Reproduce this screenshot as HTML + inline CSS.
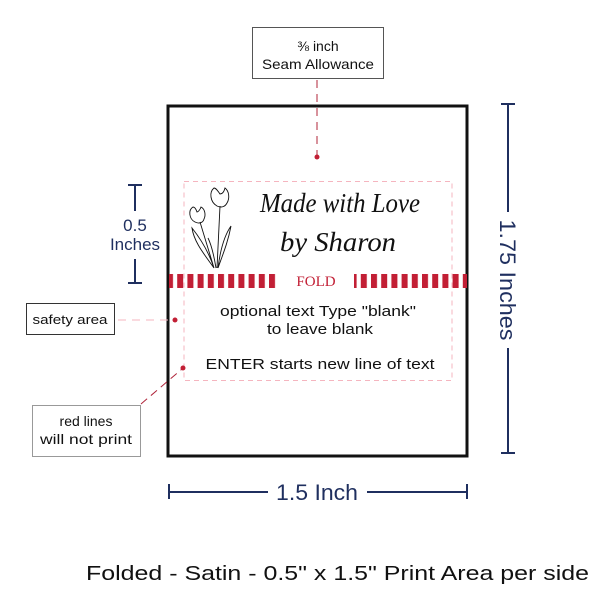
<!DOCTYPE html>
<html><head><style>
body{margin:0;width:600px;height:600px;background:#fff;overflow:hidden}
svg{display:block}
</style></head><body>
<svg width="600" height="600" viewBox="0 0 600 600" xmlns="http://www.w3.org/2000/svg">
<defs>
<pattern id="st" x="167" y="0" width="10.2" height="20" patternUnits="userSpaceOnUse">
<rect x="0" y="0" width="6" height="20" fill="#c21f35"/>
</pattern>
</defs>
<!-- seam allowance box -->
<rect x="252.5" y="27.5" width="131" height="51" fill="#fff" stroke="#555" stroke-width="1"/>
<text x="318" y="51" font-family="Liberation Sans, sans-serif" font-size="14" text-anchor="middle" fill="#111">⅜ inch</text>
<text x="318" y="69" font-family="Liberation Sans, sans-serif" font-size="14" text-anchor="middle" fill="#111" textLength="112" lengthAdjust="spacingAndGlyphs">Seam Allowance</text>
<line x1="317" y1="80" x2="317" y2="157" stroke="#b0243a" stroke-width="1" stroke-dasharray="8,6"/>
<circle cx="317" cy="157" r="2.5" fill="#c21f35"/>
<!-- outer rect -->
<rect x="168" y="106" width="299" height="350" fill="none" stroke="#111" stroke-width="3"/>
<!-- safety rect -->
<rect x="184" y="181.5" width="268" height="199" fill="none" stroke="#f5b5bf" stroke-width="1" stroke-dasharray="5,4"/>
<!-- fold band -->
<rect x="169" y="274" width="110" height="14" fill="url(#st)"/>
<rect x="354" y="274" width="113" height="14" fill="url(#st)"/>
<text x="316" y="286" font-family="Liberation Serif, serif" font-size="15" text-anchor="middle" fill="#c21f35">FOLD</text>
<!-- script text -->
<text x="340" y="212" font-family="Liberation Serif, serif" font-style="italic" font-size="27" text-anchor="middle" fill="#111" textLength="160" lengthAdjust="spacingAndGlyphs">Made with Love</text>
<text x="338" y="251" font-family="Liberation Serif, serif" font-style="italic" font-size="27" text-anchor="middle" fill="#111" textLength="116" lengthAdjust="spacingAndGlyphs">by Sharon</text>
<!-- tulip -->
<g fill="none" stroke="#111" stroke-width="0.9">
<path d="M214 188 c-5 4 -4 14 3 18 c4 2 8 1 10 -3 c3 -5 2 -12 -2 -15 c-1 4 -3 6 -5 6 c-2 -3 -4 -6 -6 -6z"/>
<path d="M193 207 c-5 3 -4 12 2 15 c4 2 8 1 9 -3 c2 -4 1 -10 -3 -12 c-1 3 -3 5 -4 5 c-1 -3 -2 -5 -4 -5z"/>
<path d="M220 206 L217 268 M200 222 L214 268 M214 268 c-10 -14 -20 -26 -22 -40 c8 10 16 22 22 40 M218 268 c5 -14 10 -26 13 -42 c-7 10 -11 26 -13 42 M216 268 c-2 -12 -4 -22 -8 -30"/>
</g>
<!-- body text -->
<text x="318" y="316" font-family="Liberation Sans, sans-serif" font-size="14.5" text-anchor="middle" fill="#111" textLength="196" lengthAdjust="spacingAndGlyphs">optional text  Type "blank"</text>
<text x="320" y="334" font-family="Liberation Sans, sans-serif" font-size="14.5" text-anchor="middle" fill="#111" textLength="106" lengthAdjust="spacingAndGlyphs">to leave blank</text>
<text x="320" y="369" font-family="Liberation Sans, sans-serif" font-size="15" text-anchor="middle" fill="#111" textLength="229" lengthAdjust="spacingAndGlyphs">ENTER starts   new line of text</text>
<!-- dims -->
<g stroke="#1f2f5f" stroke-width="2" fill="none">
<line x1="128" y1="185" x2="142" y2="185"/><line x1="135" y1="185" x2="135" y2="211"/>
<line x1="128" y1="283" x2="142" y2="283"/><line x1="135" y1="259" x2="135" y2="283"/>
<line x1="508" y1="104" x2="508" y2="212"/><line x1="508" y1="348" x2="508" y2="453"/>
<line x1="501" y1="104" x2="515" y2="104"/><line x1="501" y1="453" x2="515" y2="453"/>
<line x1="169" y1="484" x2="169" y2="499"/><line x1="467" y1="484" x2="467" y2="499"/>
<line x1="169" y1="492" x2="268" y2="492"/><line x1="367" y1="492" x2="467" y2="492"/>
</g>
<text x="135" y="231" font-family="Liberation Sans, sans-serif" font-size="17" text-anchor="middle" fill="#1f2f5f">0.5</text>
<text x="135" y="250" font-family="Liberation Sans, sans-serif" font-size="17" text-anchor="middle" fill="#1f2f5f">Inches</text>
<text x="317" y="500" font-family="Liberation Sans, sans-serif" font-size="22" text-anchor="middle" fill="#1f2f5f" textLength="82" lengthAdjust="spacingAndGlyphs">1.5 Inch</text>
<text transform="translate(500,280) rotate(90)" x="0" y="0" font-family="Liberation Sans, sans-serif" font-size="22" text-anchor="middle" fill="#1f2f5f" textLength="121" lengthAdjust="spacingAndGlyphs">1.75 Inches</text>
<!-- safety area -->
<rect x="26.5" y="303.5" width="88" height="31" fill="#fff" stroke="#333" stroke-width="1"/>
<text x="70" y="324" font-family="Liberation Sans, sans-serif" font-size="13" text-anchor="middle" fill="#111" textLength="75" lengthAdjust="spacingAndGlyphs">safety area</text>
<line x1="118" y1="320" x2="173" y2="320" stroke="#f5b5bf" stroke-width="1" stroke-dasharray="8,6"/>
<circle cx="175" cy="320" r="2.5" fill="#c21f35"/>
<!-- red lines -->
<rect x="32.5" y="405.5" width="108" height="51" fill="#fff" stroke="#999" stroke-width="1"/>
<text x="86" y="426" font-family="Liberation Sans, sans-serif" font-size="14" text-anchor="middle" fill="#111">red lines</text>
<text x="86" y="444" font-family="Liberation Sans, sans-serif" font-size="14" text-anchor="middle" fill="#111" textLength="92" lengthAdjust="spacingAndGlyphs">will not print</text>
<line x1="141" y1="404" x2="182" y2="369" stroke="#b0243a" stroke-width="1" stroke-dasharray="8,5"/>
<circle cx="183" cy="368" r="2.5" fill="#c21f35"/>
<!-- title -->
<text x="86" y="580" font-family="Liberation Sans, sans-serif" font-size="20" fill="#111" textLength="503" lengthAdjust="spacingAndGlyphs">Folded - Satin - 0.5" x 1.5" Print Area per side</text>
</svg>
</body></html>
